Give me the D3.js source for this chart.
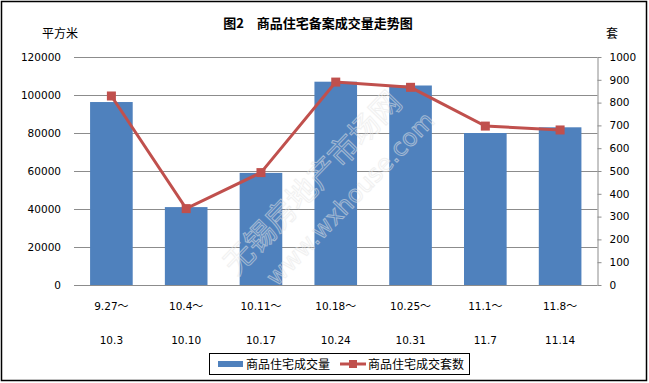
<!DOCTYPE html>
<html><head><meta charset="utf-8">
<script src="https://cdn.jsdelivr.net/npm/d3@7"></script>
<style>
body{margin:0;background:#fff;}
svg{display:block;}
</style></head>
<body>
<svg id="c" width="649" height="383"></svg>
<script>
const catTop = ["9.27～","10.4～","10.11～","10.18～","10.25～","11.1～","11.8～"];
const catBottom = ["10.3","10.10","10.17","10.24","10.31","11.7","11.14"];
const areaValues = [96300, 41000, 59000, 107000, 105000, 80000, 83000];
const unitValues = [829, 335, 493, 890, 867, 697, 680];
const leftTicks = [0,20000,40000,60000,80000,100000,120000];
const rightTicks = [0,100,200,300,400,500,600,700,800,900,1000];
const title = "图2　商品住宅备案成交量走势图";
const seriesNames = ["商品住宅成交量","商品住宅成交套数"];

const svg = d3.select("#c");
const numFont = "'DejaVu Sans', Verdana, sans-serif";
const cjkFont = "'Noto Sans CJK SC', sans-serif";
const L = 74, R = 597.5, T = 57, B = 285;

svg.append("rect").attr("x",1.5).attr("y",1.5).attr("width",645).attr("height",379)
  .attr("fill","#fff").attr("stroke","#000").attr("stroke-width",1.5);

const x = d3.scaleBand().domain(d3.range(catTop.length)).range([L,R]).paddingInner(0.43).paddingOuter(0.215);
const yL = d3.scaleLinear().domain([0,120000]).range([B,T]);
const yR = d3.scaleLinear().domain([0,1000]).range([B,T]);

// gridlines
svg.append("g").selectAll("line").data(leftTicks).join("line")
  .attr("x1",L).attr("x2",R).attr("y1",d=>Math.round(yL(d))+0.5).attr("y2",d=>Math.round(yL(d))+0.5)
  .attr("stroke","#8c8c8c").attr("stroke-width",1);

// left axis labels
const gl = svg.append("g").attr("transform",`translate(${L},0)`)
  .call(d3.axisLeft(yL).tickValues(leftTicks).tickSize(0).tickPadding(13).tickFormat(d3.format("d")));
gl.select(".domain").remove();
gl.selectAll("text").attr("font-family",numFont).attr("font-size","10.5px").attr("fill","#000");

// right axis
const gr = svg.append("g").attr("transform",`translate(${R},0)`)
  .call(d3.axisRight(yR).tickValues(rightTicks).tickSize(4).tickPadding(8).tickSizeOuter(0).tickFormat(d3.format("d")));
gr.select(".domain").attr("stroke","#8c8c8c");
gr.selectAll(".tick line").attr("stroke","#8c8c8c");
gr.selectAll("text").attr("font-family",numFont).attr("font-size","10.5px").attr("fill","#000");

// bars
svg.append("g").selectAll("rect").data(areaValues).join("rect")
  .attr("x",(d,i)=>x(i)).attr("width",x.bandwidth())
  .attr("y",d=>yL(d)).attr("height",d=>B-yL(d)).attr("fill","#4F81BD");

// watermark
const wm = svg.append("g").attr("transform","translate(330,200) rotate(-46)").attr("opacity",0.55);
wm.append("text").attr("x",0).attr("y",-14).attr("text-anchor","middle")
  .attr("font-family",cjkFont).attr("font-size","30px").attr("fill","none").attr("stroke","#e6e6e6").attr("stroke-width",1)
  .text("无锡房地产市场网");
wm.append("text").attr("x",15).attr("y",22).attr("text-anchor","middle")
  .attr("font-family","'DejaVu Sans', sans-serif").attr("font-size","24px").attr("fill","none").attr("stroke","#e6e6e6").attr("stroke-width",1)
  .text("www.wxhouse.com");

// line
const cx = i => x(i)+x.bandwidth()/2;
svg.append("path").datum(unitValues)
  .attr("d", d3.line().x((d,i)=>cx(i)).y(d=>yR(d)))
  .attr("fill","none").attr("stroke","#C0504D").attr("stroke-width",3);
svg.append("g").selectAll("rect").data(unitValues).join("rect")
  .attr("x",(d,i)=>cx(i)-4.5).attr("y",d=>yR(d)-4.5).attr("width",9).attr("height",9)
  .attr("fill","#C0504D");

// x labels
const xl = svg.append("g");
xl.selectAll("text.t").data(catTop).join("text").attr("class","t")
  .attr("x",(d,i)=>cx(i)).attr("y",310).attr("text-anchor","middle")
  .attr("font-family",numFont).attr("font-size","10.5px")
  .each(function(d){
    const t = d3.select(this);
    t.append("tspan").text(d.replace("～",""));
    t.append("tspan").attr("font-family",cjkFont).attr("font-size","11px").text("～");
  });
xl.selectAll("text.b").data(catBottom).join("text").attr("class","b")
  .attr("x",(d,i)=>cx(i)).attr("y",344).attr("text-anchor","middle")
  .attr("font-family",numFont).attr("font-size","10.5px").text(d=>d);

// titles
svg.append("text").attr("x",318).attr("y",28).attr("text-anchor","middle")
  .attr("font-family",cjkFont).attr("font-weight","bold").attr("font-size","13px").text(title);
svg.append("text").attr("x",60).attr("y",38).attr("text-anchor","middle")
  .attr("font-family",cjkFont).attr("font-size","12px").text("平方米");
svg.append("text").attr("x",612).attr("y",38).attr("text-anchor","middle")
  .attr("font-family",cjkFont).attr("font-size","12px").text("套");

// legend
const lg = svg.append("g");
lg.append("rect").attr("x",209.5).attr("y",353.5).attr("width",260).attr("height",21)
  .attr("fill","#fff").attr("stroke","#000").attr("stroke-width",1);
lg.append("line").attr("x1",218).attr("x2",243).attr("y1",364).attr("y2",364)
  .attr("stroke","#4F81BD").attr("stroke-width",6);
lg.append("text").attr("x",246).attr("y",368.5).attr("font-family",cjkFont).attr("font-size","12px").text(seriesNames[0]);
lg.append("line").attr("x1",340).attr("x2",366).attr("y1",364).attr("y2",364)
  .attr("stroke","#C0504D").attr("stroke-width",3);
lg.append("rect").attr("x",349).attr("y",360).attr("width",8).attr("height",8).attr("fill","#C0504D");
lg.append("text").attr("x",368).attr("y",368.5).attr("font-family",cjkFont).attr("font-size","12px").text(seriesNames[1]);
</script>
</body></html>
